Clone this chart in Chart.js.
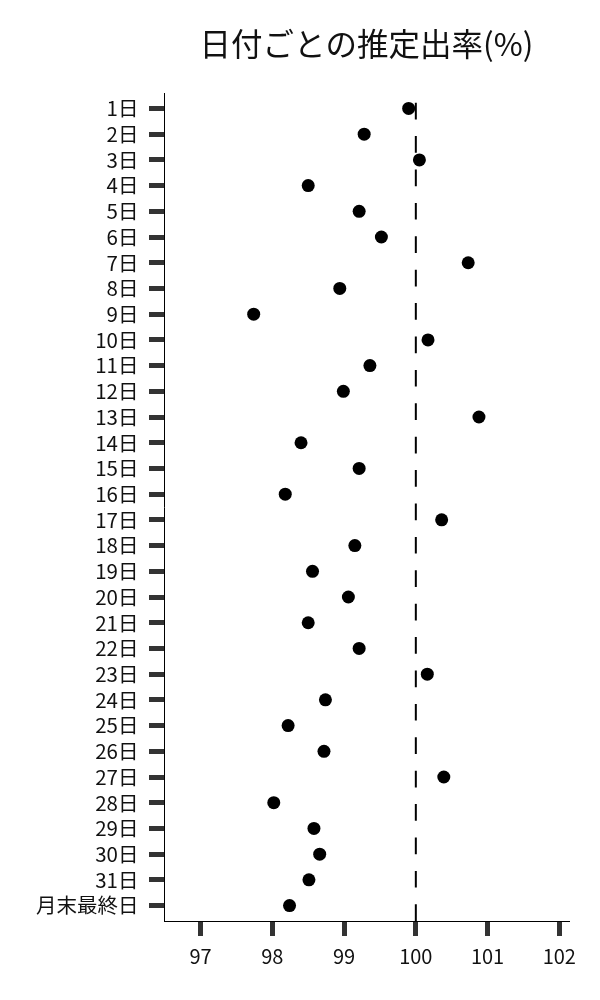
<!DOCTYPE html>
<html>
<head>
<meta charset="utf-8">
<script src="https://cdn.jsdelivr.net/npm/chart.js@4"></script>
<style>
    body { margin: 0; background: #ffffff; }
    #wrap { width: 600px; height: 1000px; }
</style>
</head>
<body>
<div id="wrap"><canvas id="rateChart" width="600" height="1000"></canvas></div>
<script>
// DATA
const dayLabels = ['1日', '2日', '3日', '4日', '5日', '6日', '7日', '8日', '9日', '10日',
    '11日', '12日', '13日', '14日', '15日', '16日', '17日', '18日', '19日', '20日',
    '21日', '22日', '23日', '24日', '25日', '26日', '27日', '28日', '29日', '30日',
    '31日', '月末最終日'];
const rateValues = [99.90, 99.28, 100.05, 98.50, 99.21, 99.52, 100.73, 98.94, 97.74, 100.17,
    99.36, 98.99, 100.88, 98.40, 99.21, 98.18, 100.36, 99.15, 98.56, 99.06,
    98.50, 99.21, 100.16, 98.74, 98.22, 98.72, 100.39, 98.02, 98.58, 98.66,
    98.51, 98.24];
const xTickValues = [97, 98, 99, 100, 101, 102];
const refValue = 100;
const chartTitle = '日付ごとの推定出率(%)';

// axis ranges
const xMin = 96.49, xMax = 102.135;
const yMin = -0.57, yMax = 31.6;

Chart.defaults.font.family = '"Noto Sans CJK JP", "Noto Sans", sans-serif';
Chart.defaults.color = '#111111';

// center the title over the plot area instead of the whole canvas
const titleOverAxes = {
    id: 'titleOverAxes',
    afterLayout(chart) {
        const t = chart.titleBlock;
        if (t) {
            t.left = chart.chartArea.left;
            t.right = chart.chartArea.right;
        }
    }
};

const points = rateValues.map((v, i) => ({ x: v, y: i }));

const ctx = document.getElementById('rateChart').getContext('2d');
new Chart(ctx, {
    type: 'scatter',
    data: {
        datasets: [
            {
                label: 'rate',
                data: points,
                backgroundColor: '#000000',
                borderWidth: 0,
                pointRadius: 6.5,
                pointHoverRadius: 6.5,
                order: 1
            },
            {
                type: 'line',
                label: 'ref',
                data: [{ x: refValue, y: yMax }, { x: refValue, y: yMin }],
                borderColor: '#000000',
                borderWidth: 2,
                borderDash: [16.7, 16.7],
                pointRadius: 0,
                fill: false,
                order: 2
            }
        ]
    },
    plugins: [titleOverAxes],
    options: {
        responsive: false,
        animation: false,
        devicePixelRatio: 1,
        layout: { padding: { left: 0, right: 31, top: 0, bottom: 0 } },
        plugins: {
            legend: { display: false },
            tooltip: { enabled: false },
            title: {
                display: true,
                text: chartTitle,
                color: '#111111',
                font: { size: 31.5, weight: 'normal' },
                padding: { top: 25, bottom: 31 }
            }
        },
        scales: {
            x: {
                type: 'linear',
                min: xMin,
                max: xMax,
                afterBuildTicks: scale => { scale.ticks = xTickValues.map(v => ({ value: v })); },
                afterFit: scale => { scale.height = 79; },
                border: { display: true, color: '#000000', width: 1 },
                grid: {
                    drawOnChartArea: false,
                    drawTicks: true,
                    tickLength: 15,
                    tickWidth: 5,
                    tickColor: '#333333'
                },
                ticks: {
                    padding: 8,
                    font: { size: 20 },
                    color: '#111111'
                }
            },
            y: {
                type: 'linear',
                reverse: true,
                min: yMin,
                max: yMax,
                afterBuildTicks: scale => { scale.ticks = dayLabels.map((d, i) => ({ value: i })); },
                afterFit: scale => { scale.width = 164; },
                border: { display: true, color: '#000000', width: 1 },
                grid: {
                    drawOnChartArea: false,
                    drawTicks: true,
                    tickLength: 15,
                    tickWidth: 5,
                    tickColor: '#333333'
                },
                ticks: {
                    padding: 10.5,
                    autoSkip: false,
                    font: { size: 20.5 },
                    color: '#111111',
                    callback: value => dayLabels[value]
                }
            }
        }
    }
});
</script>
</body>
</html>
